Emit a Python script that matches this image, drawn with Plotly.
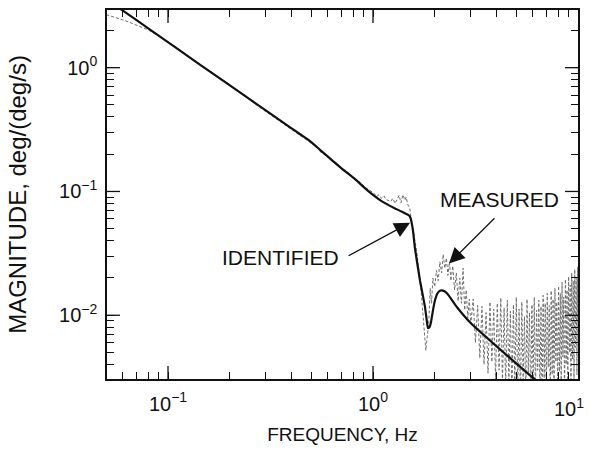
import math
import plotly.graph_objects as go

# Identified model response (frequency in Hz, magnitude in deg/(deg/s))
ident_freq = [0.050, 0.0597, 0.0817, 0.143, 0.251, 0.394, 0.441, 0.493, 0.551, 0.638,
              0.714, 0.817, 0.904, 1.000, 1.106, 1.21, 1.280, 1.355, 1.417, 1.48,
              1.50, 1.525, 1.567, 1.60, 1.695, 1.754, 1.794, 1.830, 1.854, 1.886,
              1.918, 1.962, 2.006, 2.06, 2.12, 2.195, 2.30, 2.57, 2.97, 6.03, 7.5]
ident_mag = [3.55, 2.92, 2.03, 1.06, 0.554, 0.330, 0.290, 0.255, 0.217, 0.176,
             0.150, 0.126, 0.108, 0.0938, 0.0831, 0.0765, 0.0730, 0.0697, 0.0672, 0.0648,
             0.0640, 0.0610, 0.0482, 0.0352, 0.0191, 0.0142, 0.0116, 0.0090, 0.00787, 0.0080,
             0.00879, 0.0110, 0.0132, 0.0150, 0.0158, 0.0158, 0.0150, 0.0116, 0.00879, 0.00312, 0.0023]

# Measured frequency response
meas_freq = [
    0.050, 0.055, 0.060, 0.066, 0.073, 0.080, 0.090, 0.100, 0.112, 0.125,
    0.140, 0.157, 0.175, 0.195, 0.215, 0.240, 0.265, 0.290, 0.320, 0.350,
    0.380, 0.410, 0.440, 0.470, 0.500, 0.530, 0.560, 0.590, 0.620, 0.650,
    0.680, 0.710, 0.740, 0.770, 0.800, 0.830, 0.860, 0.890, 0.920, 0.950,
    0.980, 1.010, 1.040, 1.070, 1.100, 1.130, 1.160, 1.190, 1.220, 1.250,
    1.280, 1.310, 1.340, 1.370, 1.400, 1.430,
    1.45, 1.48, 1.51, 1.54, 1.57, 1.60, 1.63, 1.66, 1.69, 1.72,
    1.75, 1.78, 1.81, 1.84, 1.87, 1.90, 1.93, 1.96, 2.00, 2.04,
    2.08, 2.12, 2.16, 2.20, 2.24, 2.28, 2.32, 2.36, 2.40, 2.45,
    2.50, 2.55, 2.60, 2.65, 2.70, 2.75, 2.80, 2.85, 2.90, 2.95, 3.00,
    3.08, 3.16, 3.24, 3.32, 3.40, 3.48, 3.56, 3.64, 3.72, 3.80,
    3.88, 3.96, 4.04, 4.12, 4.20, 4.28, 4.36, 4.44, 4.52, 4.60,
    4.68, 4.76, 4.84, 4.92, 5.00,
    5.08, 5.16, 5.24, 5.32, 5.40, 5.48, 5.56, 5.64, 5.72, 5.80,
    5.88, 5.96, 6.04, 6.12, 6.20, 6.28, 6.36, 6.44, 6.52, 6.60,
    6.68, 6.76, 6.84, 6.92, 7.00, 7.08, 7.16, 7.24, 7.32, 7.40,
    7.48, 7.56, 7.64, 7.72, 7.80, 7.88, 7.96, 8.04, 8.12, 8.20,
    8.28, 8.36, 8.44, 8.52, 8.60, 8.68, 8.76, 8.84, 8.92, 9.00,
    9.08, 9.16, 9.24, 9.32, 9.40, 9.48, 9.56, 9.64, 9.72, 9.80,
    9.88, 9.96, 10.04,
]
meas_mag = [
    2.68, 2.56, 2.44, 2.30, 2.16, 2.02, 1.80, 1.61, 1.43, 1.25,
    1.09, 0.96, 0.85, 0.75, 0.67, 0.59, 0.51, 0.46, 0.41, 0.37,
    0.335, 0.31, 0.285, 0.265, 0.245, 0.235, 0.205, 0.198, 0.183, 0.168,
    0.160, 0.152, 0.148, 0.138, 0.131, 0.121, 0.120, 0.113, 0.107, 0.104,
    0.100, 0.097, 0.091, 0.094, 0.088, 0.092, 0.086, 0.084, 0.083, 0.088,
    0.080, 0.086, 0.093, 0.081, 0.094, 0.085,
    0.090, 0.078, 0.074, 0.058, 0.050, 0.040, 0.034, 0.026, 0.020, 0.015,
    0.0105, 0.0072, 0.0052, 0.0068, 0.0085, 0.0165, 0.0125, 0.020, 0.017, 0.023,
    0.019, 0.027, 0.022, 0.031, 0.024, 0.029, 0.021, 0.027, 0.019, 0.025,
    0.016, 0.022, 0.013, 0.020, 0.0125, 0.024, 0.011, 0.016, 0.0095, 0.0135, 0.0085,
    0.0135, 0.0060, 0.012, 0.0045, 0.0118, 0.0040, 0.0105, 0.0034, 0.0128, 0.0042,
    0.0112, 0.0030, 0.0125, 0.0036, 0.0138, 0.0028, 0.0115, 0.0026, 0.0132, 0.0030,
    0.0108, 0.0022, 0.0122, 0.0027, 0.0140,
    0.0024, 0.0112, 0.0020, 0.0128, 0.0030, 0.0098, 0.0019, 0.0135, 0.0034, 0.0105,
    0.0021, 0.0122, 0.0028, 0.0140, 0.0020, 0.0110, 0.0036, 0.0132, 0.0024, 0.0118,
    0.0018, 0.0145, 0.0031, 0.0125, 0.0022, 0.0150, 0.0038, 0.0120, 0.0020, 0.0158,
    0.0033, 0.0135, 0.0023, 0.0165, 0.0042, 0.0128, 0.0021, 0.0172, 0.0035, 0.0150,
    0.0026, 0.0185, 0.0046, 0.0140, 0.0022, 0.0195, 0.0040, 0.0160, 0.0027, 0.0205,
    0.0050, 0.0175, 0.0025, 0.0220, 0.0044, 0.0190, 0.0030, 0.0235, 0.0055, 0.0200,
    0.0033, 0.0245, 0.0045,
]

# Decade (labelled) ticks and the unlabelled in-between ticks
x_major = [0.1, 1.0, 10.0]
x_major_text = ["10<sup>\u22121</sup>", "10<sup>0</sup>", ""]
y_major = [0.01, 0.1, 1.0]
y_major_text = ["10<sup>\u22122</sup>", "10<sup>\u22121</sup>", "10<sup>0</sup>"]
x_minor = [m * 10.0 ** d for d in (-2, -1, 0) for m in range(2, 10)]
y_minor = [m * 10.0 ** d for d in (-3, -2, -1, 0) for m in range(2, 10)]

X_RANGE = [-1.2976, 1.0]
Y_RANGE = [-2.515, 0.466]

W, H = 590, 450
MARGIN = dict(l=107, r=12, t=8, b=71)
PLOT_W = W - MARGIN["l"] - MARGIN["r"]
PLOT_H = H - MARGIN["t"] - MARGIN["b"]
PX_PER_DEC_X = PLOT_W / (X_RANGE[1] - X_RANGE[0])
PX_PER_DEC_Y = PLOT_H / (Y_RANGE[1] - Y_RANGE[0])

FONT = "Liberation Sans, Arial, sans-serif"
INK = "#111111"
MAJOR_LEN = 13
MINOR_LEN = 7

fig = go.Figure()
fig.add_trace(go.Scatter(
    x=meas_freq, y=meas_mag, mode="lines", name="Measured",
    line=dict(color="#707070", width=1, dash="3px,2px"),
))
fig.add_trace(go.Scatter(
    x=ident_freq, y=ident_mag, mode="lines", name="Identified",
    line=dict(color="#111111", width=2.2, shape="spline", smoothing=0.4),
))


def decade_ticks(xs, ys, length):
    """Inward tick segments on all four sides of the frame, in data units."""
    tx, ty = [], []
    x_lo, x_hi = 10 ** X_RANGE[0], 10 ** X_RANGE[1]
    y_lo, y_hi = 10 ** Y_RANGE[0], 10 ** Y_RANGE[1]
    dy = length / PX_PER_DEC_Y
    dx = length / PX_PER_DEC_X
    for f in xs:
        if X_RANGE[0] < math.log10(f) < X_RANGE[1] - 1e-6:
            tx += [f, f, None, f, f, None]
            ty += [y_lo, 10 ** (Y_RANGE[0] + dy), None, y_hi, 10 ** (Y_RANGE[1] - dy), None]
    for m in ys:
        if Y_RANGE[0] < math.log10(m) < Y_RANGE[1]:
            tx += [x_lo, 10 ** (X_RANGE[0] + dx), None, x_hi, 10 ** (X_RANGE[1] - dx), None]
            ty += [m, m, None, m, m, None]
    return tx, ty


# longer decade ticks drawn over the frame
tx, ty = decade_ticks(x_major, y_major, MAJOR_LEN)
fig.add_trace(go.Scatter(x=tx, y=ty, mode="lines", line=dict(color=INK, width=1.3),
                         hoverinfo="skip", showlegend=False))

tick_font = dict(family=FONT, size=20, color=INK)
# axis ticks: every decade and in-between value, short and pointing inward
axis_common = dict(
    type="log", showgrid=False, zeroline=False,
    showline=True, linecolor=INK, linewidth=1.5, mirror="ticks",
    ticks="inside", ticklen=MINOR_LEN, tickwidth=1.2, tickcolor=INK,
    tickmode="array", tickfont=tick_font,
)

fig.update_layout(
    xaxis=dict(
        **axis_common, range=X_RANGE,
        tickvals=x_major + x_minor, ticktext=x_major_text + [""] * len(x_minor),
        ticklabelstandoff=6,
        title=dict(text="FREQUENCY, Hz", font=dict(family=FONT, size=19, color=INK), standoff=14),
    ),
    yaxis=dict(
        **axis_common, range=Y_RANGE,
        tickvals=y_major + y_minor, ticktext=y_major_text + [""] * len(y_minor),
        ticklabelstandoff=4,
        title=dict(text="MAGNITUDE, deg/(deg/s)", font=dict(family=FONT, size=24, color=INK), standoff=26),
    ),
)

ann_font = dict(family=FONT, size=21, color=INK)
# the 10^1 label sits just inside the right edge of the figure
fig.add_annotation(x=1.0, y=0, xref="paper", yref="paper", text="10<sup>1</sup>",
                   showarrow=False, xanchor="right", yanchor="top", yshift=-14,
                   xshift=8, font=tick_font)
fig.add_annotation(x=-0.449, y=-1.534, xref="x", yref="y", text="IDENTIFIED",
                   showarrow=False, font=ann_font)
fig.add_annotation(x=0.615, y=-1.068, xref="x", yref="y", text="MEASURED",
                   showarrow=False, font=ann_font)
fig.add_annotation(x=0.1805, y=-1.253, ax=-0.1268, ay=-1.526,
                   xref="x", yref="y", axref="x", ayref="y", text="",
                   showarrow=True, arrowhead=2, arrowsize=2.4, arrowwidth=1.3,
                   arrowcolor=INK, standoff=0)
fig.add_annotation(x=0.3707, y=-1.582, ax=0.60, ay=-1.205,
                   xref="x", yref="y", axref="x", ayref="y", text="",
                   showarrow=True, arrowhead=2, arrowsize=2.4, arrowwidth=1.3,
                   arrowcolor=INK, standoff=0)

fig.update_layout(
    width=W, height=H,
    margin=MARGIN,
    paper_bgcolor="white", plot_bgcolor="white",
    showlegend=False,
    font=dict(family=FONT, color=INK),
)

fig.write_html("out.html")
